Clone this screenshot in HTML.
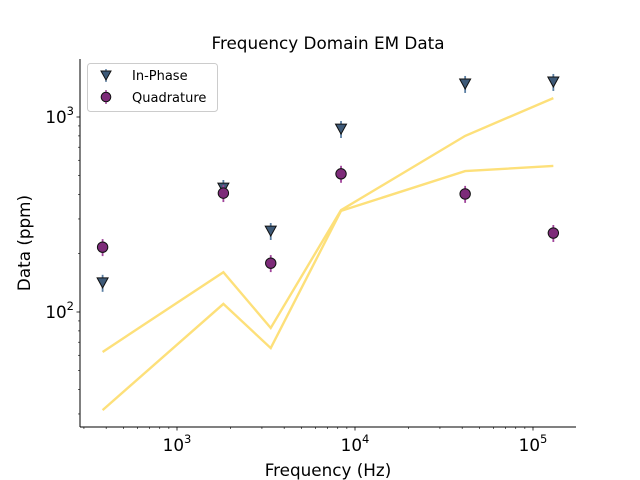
<!DOCTYPE html>
<html><head><meta charset="utf-8"><style>
html,body{margin:0;padding:0;background:#fff;}
svg{display:block;font-family:"DejaVu Sans","Liberation Sans",sans-serif;}
</style></head><body>
<svg id="chart" width="640" height="480" xmlns="http://www.w3.org/2000/svg">
<rect width="640" height="480" fill="#fff"/>
<text x="328" y="49" text-anchor="middle" font-size="16.8">Frequency Domain EM Data</text>
<g id="lines"></g>
<g id="marks"></g>
<g id="axes"></g>
<text x="328" y="476" text-anchor="middle" font-size="16.8">Frequency (Hz)</text>
<text transform="translate(30,243) rotate(-90)" text-anchor="middle" font-size="16.8">Data (ppm)</text>
<g>
<rect x="87.5" y="63.5" width="130" height="48" rx="3" fill="#fff" stroke="#ccc"/>
<g>
<line x1="106" y1="69" x2="106" y2="82" stroke="#5b7fa3" stroke-width="1.5"/>
<polygon points="101,71 111,71 106,80" fill="#3e5a78" stroke="#111" stroke-width="1"/>
<text x="132" y="80" font-size="13">In-Phase</text></g>
<g>
<line x1="106" y1="90" x2="106" y2="104" stroke="#a0449a" stroke-width="1.5"/>
<circle cx="106" cy="97" r="4.8" fill="#7d2b79" stroke="#111" stroke-width="1"/>
<text x="132" y="102" font-size="13">Quadrature</text></g>
</g>
</svg>
<script>
const frequencies=[382,1822,3362,8346,41574,130100];
const inPhase=[141,432,260,867,1476,1511];
const quadrature=[215,407,178,511,403,254];
const modelUpper=[62.4,160,82.8,333,800,1250];
const modelLower=[31.4,110,65.3,330,528,561];
const xTicks=[1000,10000,100000];
const xTickLabels=["3","4","5"];
const yTicks=[100,1000];
const yTickLabels=["2","3"];
const errFrac=0.1;

const L=80,R=576,T=59,B=427;
const xs=v=>177+(Math.log10(v)-3)*178;
const ys=v=>312-(Math.log10(v)-2)*195;
const NS="http://www.w3.org/2000/svg";
function mk(tag,attrs,parent){const e=document.createElementNS(NS,tag);for(const k in attrs)e.setAttribute(k,attrs[k]);parent.appendChild(e);return e;}
const lines=document.getElementById('lines'),marks=document.getElementById('marks'),axes=document.getElementById('axes');

[modelUpper,modelLower].forEach((s,i)=>{
 const p=mk('polyline',{points:s.map((v,j)=>xs(frequencies[j])+','+ys(v)).join(' '),fill:'none',stroke:'#fde07a','stroke-width':2.4},lines);
 
 
});
frequencies.forEach((f,i)=>{
 const x=xs(f);
 let v=inPhase[i],y=ys(v);
 const e1=mk('line',{x1:x,x2:x,y1:ys(v*(1+errFrac)),y2:ys(v*(1-errFrac)),stroke:'#5b7fa3','stroke-width':1.8},marks);
 
 
 const t=mk('polygon',{points:`${x-5.5},${y-5} ${x+5.5},${y-5} ${x},${y+5}`,fill:'#3e5a78',stroke:'#111','stroke-width':1},marks);
 
 
 v=quadrature[i];y=ys(v);
 const e2=mk('line',{x1:x,x2:x,y1:ys(v*(1+errFrac)),y2:ys(v*(1-errFrac)),stroke:'#a0449a','stroke-width':1.8},marks);
 
 
 const c=mk('circle',{cx:x,cy:y,r:5.2,fill:'#7d2b79',stroke:'#111','stroke-width':1},marks);
 
 
});
const la=mk('line',{x1:L,x2:L,y1:T,y2:B,stroke:'#000','stroke-width':1},axes);


const ba=mk('line',{x1:L,x2:R,y1:B,y2:B,stroke:'#000','stroke-width':1},axes);


for(let d=2;d<=5;d++)for(let m=1;m<10;m++){const v=m*Math.pow(10,d),x=xs(v);if(x<L||x>R)continue;
 mk('line',{x1:x,x2:x,y1:B,y2:B+(m==1?3.5:2),stroke:'#000','stroke-width':m==1?0.8:0.6},axes);}
for(let d=1;d<=3;d++)for(let m=1;m<10;m++){const v=m*Math.pow(10,d),y=ys(v);if(y<T||y>B)continue;
 mk('line',{x1:L,x2:L-(m==1?3.5:2),y1:y,y2:y,stroke:'#000','stroke-width':m==1?0.8:0.6},axes);}
xTicks.forEach((v,i)=>{
 const t=mk('text',{x:xs(v),y:B+24,'text-anchor':'middle','font-size':16.8},axes);
 
 
 t.innerHTML='10<tspan font-size="11.5" dy="-8">'+xTickLabels[i]+'</tspan>';
});
yTicks.forEach((v,i)=>{
 const t=mk('text',{x:L-6,y:ys(v)+6,'text-anchor':'end','font-size':16.8},axes);
 
 
 t.innerHTML='10<tspan font-size="11.5" dy="-8">'+yTickLabels[i]+'</tspan>';
});
</script>
</body></html>
